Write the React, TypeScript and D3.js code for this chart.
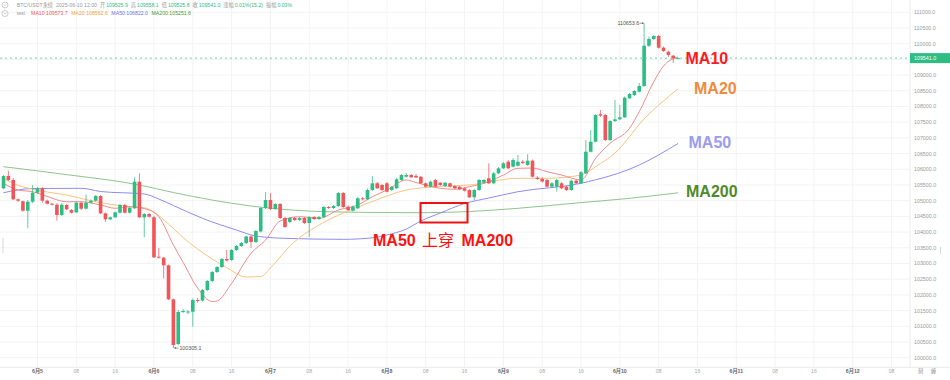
import React from "react";
import * as d3 from "d3";

const W = 950;
const H = 380;
const PLOT_RIGHT = 910;

// x-axis tick labels (every 8 hours from 6/5 00:00)
const timeTickLabels = [
  "6月5", "08", "16", "6月6", "08", "16", "6月7", "08", "16", "6月8", "08", "16",
  "6月9", "08", "16", "6月10", "08", "16", "6月11", "08", "16", "6月12", "08",
];

const priceTicks = [
  100000, 100500, 101000, 101500, 102000, 102500, 103000, 103500, 104000, 104500, 105000,
  105500, 106000, 106500, 107000, 107500, 108000, 108500, 109000, 109500, 110000, 110500, 111000,
];

// hourly candles starting 2025-06-04 17:00
const opens = [
  105395, 105786, 105659, 105044, 104981, 104681, 104968, 105254, 105395, 105000,
  104904, 104872, 104544, 104863, 104703, 104630, 104936, 104745, 104936, 105000,
  105149, 104598, 104407, 104471, 104617, 104863, 104617, 104758, 105605, 104471,
  104576, 104471, 103216, 103184, 102942, 101859, 100436, 101471, 101439, 101464,
  101837, 101821, 102155, 102442, 102729, 102888, 103143, 103111, 103429, 103557,
  103652, 103859, 103684, 104019, 104767, 105022, 104735, 104895, 104449, 104321,
  104449, 104385, 104449, 104289, 104481, 104417, 104481, 104799, 104767, 104831,
  105245, 104809, 104681, 104758, 105076, 105044, 105340, 105554, 105500, 105554,
  105340, 105395, 105659, 105764, 105818, 105790, 105764, 105554, 105446, 105659,
  105573, 105468, 105554, 105468, 105446, 105395, 105340, 105108, 105340, 105573,
  105713, 105554, 105872, 106032, 106242, 106083, 106114, 106242, 106137, 106274,
  105732, 105691, 105659, 105446, 105446, 105554, 105446, 105340, 105637, 105554,
  105872, 106560, 106879, 107752, 107729, 106933, 107538, 107592, 107656, 108261,
  108366, 108471, 108653, 109936, 110150, 110245, 109873, 109745, 109618, 109525.9,
];
const highs = [
  105818, 105955, 105723, 105070, 105006, 105022, 105500, 105436, 105436, 105038,
  104926, 104926, 104926, 104895, 104735, 104974, 104968, 105203, 105038, 105181,
  105181, 104624, 104496, 104656, 104895, 104895, 104815, 105745, 105872, 104608,
  104608, 104512, 103493, 103207, 102968, 101885, 101518, 101550, 101518, 101885,
  101901, 102187, 102474, 102761, 102920, 103175, 103429, 103461, 103589, 103684,
  103891, 103907, 104066, 104799, 105277, 105245, 104926, 104926, 104481, 104481,
  104481, 104481, 104481, 104512, 104512, 104512, 104831, 104831, 104863, 105277,
  105277, 104847, 104847, 105118, 105118, 105388, 105786, 105595, 105532, 105595,
  105468, 105723, 105850, 105882, 105850, 105850, 105786, 105579, 105643, 105691,
  105595, 105595, 105579, 105500, 105468, 105420, 105372, 105372, 105691, 105691,
  106191, 105914, 106073, 106232, 106296, 106360, 106455, 106296, 106477, 106312,
  105786, 105755, 105691, 105595, 105691, 105595, 105484, 105675, 105675, 105946,
  106933, 107252, 107761, 107889, 107761, 107570, 108207, 108048, 108319, 108430,
  108525, 108748, 110653.6, 110229, 110277, 110277, 109911, 109784, 109640, 109558.1,
];
const lows = [
  105363, 105627, 105022, 104958, 104649, 104121, 104926, 105213, 104936, 104879,
  104847, 104363, 104512, 104703, 104592, 104608, 104703, 104719, 104910, 104974,
  104576, 104331, 104385, 104449, 104592, 104592, 104592, 104735, 104449, 103834,
  104465, 103175, 103159, 102528, 101837, 100305.1, 100388, 101423, 101391, 100987,
  101757, 101789, 102124, 102410, 102697, 102856, 103063, 103079, 103398, 103525,
  103621, 103493, 103652, 103987, 104735, 104703, 104703, 104417, 104130, 104289,
  104353, 104353, 104258, 103844, 104385, 104385, 104449, 104735, 104735, 104799,
  104767, 104672, 104656, 104735, 105006, 105022, 105309, 105372, 105309, 105261,
  105309, 105372, 105627, 105739, 105723, 105723, 105532, 105420, 105420, 105420,
  105468, 105436, 105420, 105372, 105340, 105293, 105086, 105022, 105309, 105547,
  105532, 105532, 105850, 106009, 106009, 106057, 106089, 106169, 106105, 105739,
  105659, 105579, 105420, 105420, 105286, 105372, 105309, 105309, 105532, 105532,
  105850, 106535, 106853, 107666, 106901, 106901, 107506, 107570, 107634, 108239,
  108334, 108446, 108621, 109895, 110118, 109847, 109736, 109577, 109385, 109525.8,
];
const closes = [
  105786, 105659, 105044, 105000, 104681, 104968, 105254, 105395, 105000, 104904,
  104872, 104544, 104872, 104726, 104617, 104936, 104745, 104936, 105000, 105149,
  104598, 104407, 104471, 104630, 104863, 104617, 104777, 105605, 104471, 104576,
  104490, 103197, 103184, 102942, 101859, 100404, 101455, 101487, 101471, 101837,
  101805, 102155, 102442, 102729, 102888, 103143, 103095, 103429, 103557, 103652,
  103859, 103684, 104035, 104767, 105022, 104735, 104895, 104449, 104162, 104449,
  104385, 104449, 104289, 104481, 104417, 104481, 104799, 104767, 104831, 105245,
  104799, 104703, 104809, 105076, 105044, 105340, 105554, 105395, 105340, 105286,
  105446, 105681, 105818, 105818, 105745, 105740, 105554, 105446, 105605, 105446,
  105500, 105573, 105446, 105395, 105363, 105318, 105108, 105340, 105659, 105659,
  105554, 105872, 106032, 106191, 106032, 106296, 106242, 106200, 106274, 105764,
  105691, 105611, 105446, 105554, 105659, 105395, 105340, 105637, 105554, 105904,
  106560, 106879, 107729, 107707, 106933, 107538, 107592, 107656, 108280, 108398,
  108494, 108653, 109936, 110150, 110245, 109873, 109768, 109640, 109535, 109541.0,
];

// moving average lines: [candle index, value]
const ma10: [number, number][] = [
  [0, 105554], [3, 105340], [6, 105286], [9, 105134], [13, 104968], [16, 104968],
  [20, 104863], [23, 104758], [26, 104809], [30, 104703], [32, 104490], [35, 103589],
  [37, 103040], [40, 102219], [43, 101789], [44, 101805], [47, 102369], [51, 103325],
  [54, 103748], [57, 104353], [61, 104490], [65, 104439], [69, 104703], [73, 104863],
  [76, 105127], [79, 105340], [83, 105659], [85, 105579], [90, 105395], [93, 105363],
  [96, 105446], [100, 105605], [103, 105818], [106, 106032], [109, 106041], [112, 105923],
  [115, 105818], [119, 105659], [122, 106350], [125, 106828], [129, 107306], [131, 107834],
  [134, 108790], [136, 109290], [139, 109573.7],
];
const ma20: [number, number][] = [
  [0, 105713], [2, 105548], [6, 105363], [13, 105181], [20, 104936], [26, 104815],
  [29, 104777], [31, 104640], [34, 104258], [37, 103828], [40, 103461], [46, 102872],
  [50, 102570], [53, 102585], [55, 102856], [59, 103557], [65, 104226], [70, 104608],
  [76, 104974], [83, 105340], [90, 105452], [96, 105500], [106, 105713], [112, 105713],
  [119, 105818], [122, 106083], [126, 106519], [132, 107602], [139, 108562.6],
];
const ma50: [number, number][] = [
  [0, 105254], [6, 105388], [16, 105395], [20, 105293], [29, 105213], [32, 105054],
  [35, 104847], [41, 104439], [48, 104066], [52, 103875], [58, 103802], [70, 103770],
  [76, 103818], [79, 103907], [83, 104098], [86, 104353], [90, 104608], [95, 104910],
  [100, 105086], [106, 105286], [119, 105554], [131, 106137], [139, 106822.0],
];
const ma200: [number, number][] = [
  [0, 106083], [12, 105850], [28, 105500], [35, 105261], [51, 104831], [65, 104656],
  [77, 104624], [86, 104617], [96, 104656], [106, 104758], [118, 104926], [129, 105076],
  [139, 105251.6],
];

const UP = "#2ebd85";
const DOWN = "#f0555a";
const GRAY = "#999";
const FONT = "'Liberation Sans', Arial, sans-serif";
const HFONT = "'Liberation Sans', 'Noto Sans CJK SC', sans-serif";

const candleTime = (i: number) => new Date(2025, 5, 4, 17 + i);

export default function App() {
  const x = d3
    .scaleTime()
    .domain([new Date(2025, 5, 5, 0), new Date(2025, 5, 12, 8)])
    .range([37.5, 891.6]);
  const y = d3.scaleLinear().domain([100000, 111000]).range([357.7, 12.3]);

  const tickTimes = d3.timeHour.every(8)!.range(new Date(2025, 5, 5, 0), new Date(2025, 5, 12, 9));

  const line = d3
    .line<[number, number]>()
    .x((d) => x(candleTime(d[0])))
    .y((d) => y(d[1]))
    .curve(d3.curveMonotoneX);

  const bodyW = 3.6;
  const lastClose = closes[closes.length - 1];
  const lastY = y(lastClose);

  const hiIdx = d3.maxIndex(highs);
  const loIdx = d3.minIndex(lows);
  const hiX = x(candleTime(hiIdx));
  const hiY = y(highs[hiIdx]);
  const loX = x(candleTime(loIdx));
  const loY = y(lows[loIdx]);

  return (
    <svg
      width={W}
      height={H}
      style={{ position: "absolute", left: 0, top: 0, background: "#fff" }}
      fontFamily={FONT}
    >
      <rect x={0} y={0} width={W} height={H} fill="#fff" />
      {/* grid */}
      {priceTicks.map((p) => (
        <line key={"h" + p} x1={0} x2={PLOT_RIGHT} y1={y(p)} y2={y(p)} stroke="#f3f3f3" strokeWidth={1} />
      ))}
      {tickTimes.map((t, k) => (
        <line key={"v" + k} x1={x(t)} x2={x(t)} y1={0} y2={367} stroke="#f3f3f3" strokeWidth={1} />
      ))}
      <line x1={PLOT_RIGHT} x2={PLOT_RIGHT} y1={0} y2={367} stroke="#ececec" />
      <line x1={0} x2={W} y1={367.3} y2={367.3} stroke="#ececec" />

      {/* price axis */}
      {priceTicks.map((p) => (
        <text key={"t" + p} x={914} y={y(p) + 1.9} fontSize={5.3} fill="#9a9a9a">
          {p.toFixed(1)}
        </text>
      ))}
      {/* time axis */}
      {tickTimes.map((t, k) => {
        const lab = timeTickLabels[k];
        const isDay = lab.includes("月");
        return (
          <text
            key={"xl" + k}
            x={x(t)}
            y={373}
            fontSize={5.2}
            textAnchor="middle"
            fill={isDay ? "#666" : "#aaa"}
            fontWeight={isDay ? 700 : 400}
            fontFamily={HFONT}
          >
            {lab}
          </text>
        );
      })}
      <text x={918} y={373} fontSize={5.2} fill="#888" fontFamily="'Noto Sans CJK SC', sans-serif">
        刻
      </text>
      <text x={931} y={373} fontSize={5.2} fill="#888" fontFamily="'Noto Sans CJK SC', sans-serif">
        缠
      </text>

      {/* small handles */}
      <rect x={2.5} y={238} width={1} height={15} fill="#d8d8d8" />
      <rect x={940} y={247} width={1} height={7} fill="#d8d8d8" />

      {/* MA lines */}
      <path d={line(ma200) ?? ""} fill="none" stroke="#8fc48f" strokeWidth={1} />
      <path d={line(ma50) ?? ""} fill="none" stroke="#8c8cf2" strokeWidth={1} />
      <path d={line(ma20) ?? ""} fill="none" stroke="#f9c47f" strokeWidth={1} />
      <path d={line(ma10) ?? ""} fill="none" stroke="#f28b8b" strokeWidth={1} />

      {/* candles */}
      {opens.map((o, i) => {
        const c = closes[i];
        const up = c >= o;
        const col = up ? UP : DOWN;
        const cx = x(candleTime(i));
        const top = y(Math.max(o, c));
        const bot = y(Math.min(o, c));
        return (
          <g key={"c" + i}>
            <line x1={cx} x2={cx} y1={y(highs[i])} y2={y(lows[i])} stroke={col} strokeWidth={1} opacity={0.75} />
            <rect x={cx - bodyW / 2} y={top} width={bodyW} height={Math.max(1, bot - top)} fill={col} />
          </g>
        );
      })}

      {/* last price line */}
      <line x1={0} x2={PLOT_RIGHT} y1={lastY} y2={lastY} stroke="#4fc3a1" strokeWidth={0.8} strokeDasharray="2,3" />
      <rect x={PLOT_RIGHT} y={lastY - 5} width={40} height={10} fill="#2ebd85" />
      <text x={914} y={lastY + 1.9} fontSize={5.3} fill="#fff">
        {lastClose.toFixed(1)}
      </text>

      {/* high / low markers */}
      <text x={hiX - 5} y={hiY + 1.8} fontSize={5.3} fill="#555" textAnchor="end">
        {highs[hiIdx].toFixed(1)}
      </text>
      <line x1={hiX - 4.5} x2={hiX - 0.5} y1={hiY} y2={hiY} stroke="#555" strokeWidth={0.6} />
      <path d={`M${hiX - 0.5},${hiY} l-1.5,-1 v2 z`} fill="#555" />
      <line x1={loX + 1} x2={loX + 5} y1={loY} y2={loY} stroke="#555" strokeWidth={0.6} />
      <path d={`M${loX + 1},${loY} l1.5,-1 v2 z`} fill="#555" />
      <text x={loX + 6} y={loY + 1.8} fontSize={5.3} fill="#555">
        {lows[loIdx].toFixed(1)}
      </text>

      {/* header */}
      <circle cx={5} cy={5} r={3} fill="none" stroke="#aaa" strokeWidth={0.6} />
      <path d="M3.8,4.4 L5,5.6 L6.2,4.4" fill="none" stroke="#aaa" strokeWidth={0.6} />
      <circle cx={5} cy={13.5} r={3} fill="none" stroke="#aaa" strokeWidth={0.6} />
      <path d="M3.8,12.9 L5,14.1 L6.2,12.9" fill="none" stroke="#aaa" strokeWidth={0.6} />
      <text x={16.7} y={6.8} fontSize={5.2} fontFamily={HFONT}>
        <tspan fill={GRAY}>BTC/USDT永续</tspan>
        <tspan dx={3} fill={GRAY}>2025-06-10 12:00</tspan>
        <tspan dx={3} fill={GRAY}>开</tspan>
        <tspan dx={1} fill={UP}>109525.9</tspan>
        <tspan dx={3} fill={GRAY}>高</tspan>
        <tspan dx={1} fill={UP}>109558.1</tspan>
        <tspan dx={3} fill={GRAY}>低</tspan>
        <tspan dx={1} fill={UP}>109525.8</tspan>
        <tspan dx={3} fill={GRAY}>收</tspan>
        <tspan dx={1} fill={UP}>109541.0</tspan>
        <tspan dx={3} fill={GRAY}>涨幅</tspan>
        <tspan dx={1} fill={UP}>0.01%(15.2)</tspan>
        <tspan dx={3} fill={GRAY}>振幅</tspan>
        <tspan dx={1} fill={UP}>0.03%</tspan>
      </text>
      <text x={16.7} y={15.3} fontSize={5.2} fontFamily={HFONT}>
        <tspan fill={GRAY}>test</tspan>
        <tspan dx={6} fill="#f05a5a">MA10:109573.7</tspan>
        <tspan dx={3.5} fill="#f5a43a">MA20:108562.6</tspan>
        <tspan dx={3.5} fill="#6f6ff0">MA50:106822.0</tspan>
        <tspan dx={3.5} fill="#3f9a3f">MA200:105251.6</tspan>
      </text>

      {/* annotations */}
      <g fontWeight={700} fontSize={16} fontFamily={FONT}>
        <text x={685.5} y={64.3} fill="#ff1a1a">MA10</text>
        <text x={694} y={94.3} fill="#f08a3c">MA20</text>
        <text x={688.5} y={147.5} fill="#9b9bef">MA50</text>
        <text x={686} y={196.8} fill="#4f8a2a">MA200</text>
        <text x={373} y={246} fill="#ff1010">MA50</text>
        <text x={461.5} y={246} fill="#ff1010">MA200</text>
      </g>
      <text x={422} y={246} fontSize={16} fill="#ff1010" fontFamily="'Noto Sans CJK SC', sans-serif">
        上穿
      </text>
      <rect x={420.5} y={203} width={47} height={19.5} fill="none" stroke="#ee1111" strokeWidth={2} />
    </svg>
  );
}
